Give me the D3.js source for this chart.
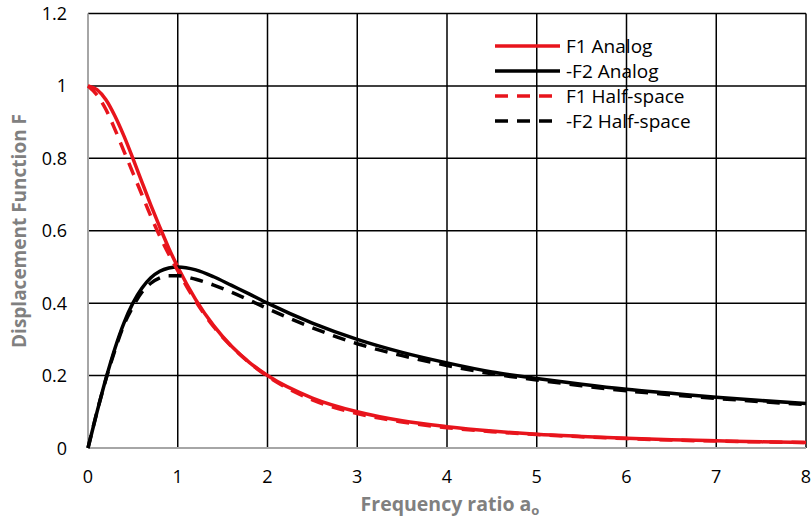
<!DOCTYPE html>
<html><head><meta charset="utf-8">
<script src="https://cdn.jsdelivr.net/npm/d3@7"></script>
<style>body{margin:0;background:#fff}svg{display:block}text{font-family:"Open Sans","Noto Sans",sans-serif}</style>
</head><body><svg id="c" width="812" height="521"></svg>
<script>
const freq = [0,0.1,0.2,0.3,0.4,0.5,0.6,0.7,0.8,0.9,1.0,1.2,1.4,1.6,1.8,2.0,2.5,3,3.5,4,4.5,5,5.5,6,6.5,7,7.5,8];
const f1Analog = [1,0.99,0.962,0.917,0.862,0.8,0.735,0.671,0.61,0.552,0.5,0.41,0.338,0.281,0.236,0.2,0.138,0.1,0.075,0.059,0.047,0.038,0.032,0.027,0.023,0.02,0.017,0.015];
const f2Analog = [0,0.099,0.192,0.275,0.345,0.4,0.441,0.47,0.488,0.497,0.5,0.492,0.473,0.449,0.425,0.4,0.345,0.3,0.264,0.235,0.21,0.192,0.176,0.162,0.151,0.14,0.131,0.123];
const f1Half = [1,0.975,0.935,0.88,0.82,0.76,0.7,0.64,0.585,0.535,0.49,0.405,0.335,0.28,0.235,0.198,0.133,0.095,0.072,0.056,0.045,0.037,0.031,0.026,0.022,0.019,0.017,0.015];
const f2Half = [0,0.1,0.19,0.27,0.34,0.39,0.43,0.455,0.47,0.476,0.476,0.466,0.45,0.43,0.408,0.385,0.332,0.288,0.255,0.228,0.205,0.188,0.172,0.158,0.147,0.137,0.128,0.12];
const xTicks = [0,1,2,3,4,5,6,7,8];
const yTicks = [0,0.2,0.4,0.6,0.8,1,1.2];
const series = [
  {name:"F1 Analog", values:f1Analog, color:"#e8141c", dash:null},
  {name:"-F2 Analog", values:f2Analog, color:"#000000", dash:null},
  {name:"F1 Half-space", values:f1Half, color:"#e8141c", dash:"13,9"},
  {name:"-F2 Half-space", values:f2Half, color:"#000000", dash:"13,9"}
];
const svg = d3.select("#c");
const x = d3.scaleLinear().domain([0,8]).range([88,806]);
const y = d3.scaleLinear().domain([0,1.2]).range([448,13.5]);
const g = svg.append("g");
g.selectAll(".vg").data(xTicks.slice(1)).join("line")
  .attr("x1",d=>x(d)).attr("x2",d=>x(d)).attr("y1",y(0)).attr("y2",y(1.2))
  .attr("stroke","#000").attr("stroke-width",1.5);
g.selectAll(".hg").data(yTicks.slice(1)).join("line")
  .attr("x1",x(0)).attr("x2",x(8)).attr("y1",d=>y(d)).attr("y2",d=>y(d))
  .attr("stroke","#000").attr("stroke-width",1.5);
g.append("line").attr("x1",x(0)).attr("x2",x(0)).attr("y1",y(0)).attr("y2",y(1.2)).attr("stroke","#a6a6a6").attr("stroke-width",2);
g.append("line").attr("x1",x(0)).attr("x2",x(8)).attr("y1",y(0)).attr("y2",y(0)).attr("stroke","#a6a6a6").attr("stroke-width",2);
g.selectAll(".xt").data(xTicks).join("text")
  .attr("x",d=>x(d)).attr("y",483).attr("text-anchor","middle")
  .attr("font-size",18).attr("fill","#000").text(d=>d);
g.selectAll(".yt").data(yTicks).join("text")
  .attr("x",67).attr("y",d=>y(d)+6.5).attr("text-anchor","end")
  .attr("font-size",18).attr("fill","#000").text(d=>d);
const line = d3.line().x((d,i)=>x(freq[i])).y(d=>y(d)).curve(d3.curveMonotoneX);
series.forEach(s=>{
  g.append("path").datum(s.values).attr("d",line).attr("fill","none")
    .attr("stroke",s.color).attr("stroke-width",3.5)
    .attr("stroke-dasharray",s.dash);
});
const ly = [46,71,96,121];
series.forEach((s,i)=>{
  g.append("line").attr("x1",495).attr("x2",560).attr("y1",ly[i]).attr("y2",ly[i])
    .attr("stroke",s.color).attr("stroke-width",3.5).attr("stroke-dasharray",s.dash);
  g.append("text").attr("x",566).attr("y",ly[i]+6.5).attr("font-size",19).attr("fill","#000").text(s.name);
});
const xt = g.append("text").attr("x",450).attr("y",511).attr("text-anchor","middle")
  .attr("font-size",19.5).attr("font-weight","bold").attr("fill","#808080");
xt.append("tspan").text("Frequency ratio a");
xt.append("tspan").attr("font-size",13).attr("dy",4).text("o");
g.append("text").attr("transform","translate(26,231) rotate(-90)").attr("text-anchor","middle")
  .attr("font-size",19).attr("font-weight","bold").attr("fill","#808080").text("Displacement Function F");
</script></body></html>
